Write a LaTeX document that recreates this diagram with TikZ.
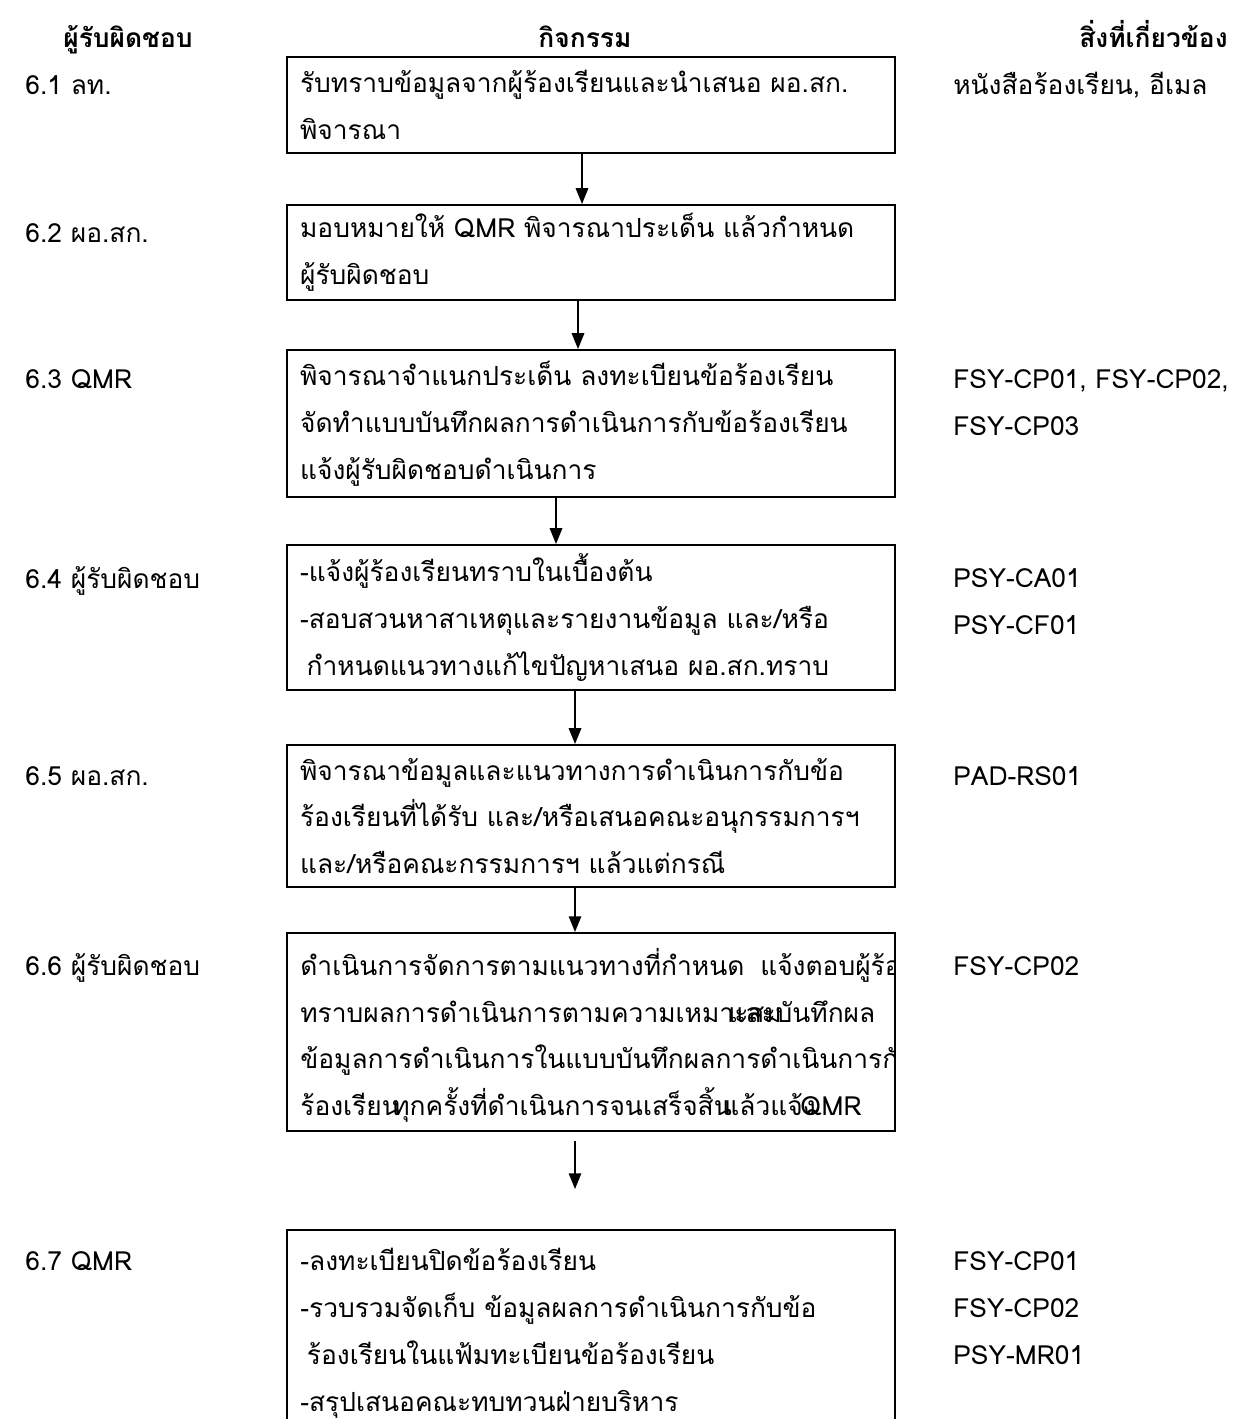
\documentclass[tikz,border=0pt]{standalone}
\usepackage{fontspec}
\setmainfont[Script=Thai]{Loma}
\usepackage{tikz}
\usetikzlibrary{arrows.meta,positioning,calc}

\begin{document}
\begin{tikzpicture}[
    x=0.02cm, y=-0.02cm,
    >={Triangle[length=9pt,width=7pt]},
    font=\fontsize{15}{26.7}\selectfont,
    head/.style={font=\fontsize{15}{26.7}\selectfont\bfseries, inner sep=0pt, anchor=base},
    who/.style={anchor=base west, inner sep=0pt},
    ref/.style={anchor=base west, inner sep=0pt, align=left},
    stepbox/.style={rectangle, draw, line width=1.1pt, minimum width=12.16cm,
                    text width=11.64cm, inner xsep=0.26cm, inner ysep=0pt, align=left},
    frag/.style={anchor=base west, inner sep=0pt},
    arr/.style={->, line width=1.2pt}
]
\useasboundingbox (0,0) rectangle (1238,1419);

% ---- Column headings ----
\node[head] (hwho) at (128,48) {ผู้รับผิดชอบ};
\node[head] (hact) at (585,48) {กิจกรรม};
\node[head, anchor=base east] (href) at (1228,48) {สิ่งที่เกี่ยวข้อง};

% ---- Responsible persons ----
\node[who] (who1) at (25,95)   {6.1 ลท.};
\node[who] (who2) at (25,242)  {6.2 ผอ.สก.};
\node[who] (who3) at (25,388)  {6.3 QMR};
\node[who] (who4) at (25,588)  {6.4 ผู้รับผิดชอบ};
\node[who] (who5) at (25,785)  {6.5 ผอ.สก.};
\node[who] (who6) at (25,975)  {6.6 ผู้รับผิดชอบ};
\node[who] (who7) at (25,1270) {6.7 QMR};

% ---- Activity boxes (absolute positions, px) ----
\node[stepbox, minimum height=1.92cm] (receive) at (591,105)
  {รับทราบข้อมูลจากผู้ร้องเรียนและนำเสนอ ผอ.สก.\\พิจารณา};
\node[stepbox, minimum height=1.9cm] (assign) at (591,252.5)
  {มอบหมายให้ QMR พิจารณาประเด็น แล้วกำหนด\\ผู้รับผิดชอบ};
\node[stepbox, minimum height=2.94cm] (classify) at (591,423.5)
  {พิจารณาจำแนกประเด็น ลงทะเบียนข้อร้องเรียน\\จัดทำแบบบันทึกผลการดำเนินการกับข้อร้องเรียน\\แจ้งผู้รับผิดชอบดำเนินการ};
\node[stepbox, minimum height=2.9cm] (inform) at (591,617.5)
  {-แจ้งผู้ร้องเรียนทราบในเบื้องต้น\\-สอบสวนหาสาเหตุและรายงานข้อมูล และ/หรือ\\\hspace{0.25em}กำหนดแนวทางแก้ไขปัญหาเสนอ ผอ.สก.ทราบ};
\node[stepbox, minimum height=2.84cm] (review) at (591,816)
  {พิจารณาข้อมูลและแนวทางการดำเนินการกับข้อ\\ร้องเรียนที่ได้รับ และ/หรือเสนอคณะอนุกรรมการฯ\\และ/หรือคณะกรรมการฯ แล้วแต่กรณี};
\node[stepbox, minimum height=3.96cm] (act) at (591,1032) {};
\node[stepbox, minimum height=4.2cm] (close) at (591,1335) {};

% ---- Overlapping text of step 6.6 (clipped to its box) ----
\begin{scope}
  \clip (act.south west) rectangle (act.north east);
  \node[frag] (act1)  at (300,975)  {ดำเนินการจัดการตามแนวทางที่กำหนด\hspace{0.6em}แจ้งตอบผู้ร้อ};
  \node[frag] (act2a) at (300,1022) {ทราบผลการดำเนินการตามความเหมาะสม};
  \node[frag] (act2b) at (728,1022) {และบันทึกผล};
  \node[frag] (act3)  at (300,1068) {ข้อมูลการดำเนินการในแบบบันทึกผลการดำเนินการกั};
  \node[frag] (act4a) at (300,1115) {ร้องเรียน};
  \node[frag] (act4b) at (392,1115) {ทุกครั้งที่ดำเนินการจนเสร็จสิ้น};
  \node[frag] (act4c) at (722,1115) {แล้วแจ้ง};
  \node[frag] (act4d) at (800,1115) {QMR};
\end{scope}

% ---- Text of step 6.7 ----
\node[frag, align=left] (closetext) at (300,1411)
  {-ลงทะเบียนปิดข้อร้องเรียน\\-รวบรวมจัดเก็บ ข้อมูลผลการดำเนินการกับข้อ\\\hspace{0.25em}ร้องเรียนในแฟ้มทะเบียนข้อร้องเรียน\\-สรุปเสนอคณะทบทวนฝ่ายบริหาร};

% ---- Related documents ----
\node[ref] (doc1) at (953,95)   {หนังสือร้องเรียน, อีเมล};
\node[ref] (doc3) at (953,435)  {FSY-CP01, FSY-CP02,\\FSY-CP03};
\node[ref] (doc4) at (953,634)  {PSY-CA01\\PSY-CF01};
\node[ref] (doc5) at (953,785)  {PAD-RS01};
\node[ref] (doc6) at (953,975)  {FSY-CP02};
\node[ref] (doc7) at (953,1364) {FSY-CP01\\FSY-CP02\\PSY-MR01};

% ---- Flow arrows ----
\draw[arr] ([xshift=-0.18cm]receive.south)  -- ([xshift=-0.18cm]assign.north);
\draw[arr] ([xshift=-0.26cm]assign.south)   -- ([xshift=-0.26cm]classify.north);
\draw[arr] ([xshift=-0.7cm]classify.south)  -- ([xshift=-0.7cm]inform.north);
\draw[arr] ([xshift=-0.32cm]inform.south)   -- ([xshift=-0.32cm]review.north);
\draw[arr] ([xshift=-0.32cm]review.south)   -- ([xshift=-0.32cm]act.north);
\draw[arr] ([xshift=-0.32cm,yshift=-0.18cm]act.south) -- ([xshift=-0.32cm,yshift=0.8cm]close.north);

\end{tikzpicture}
\end{document}
